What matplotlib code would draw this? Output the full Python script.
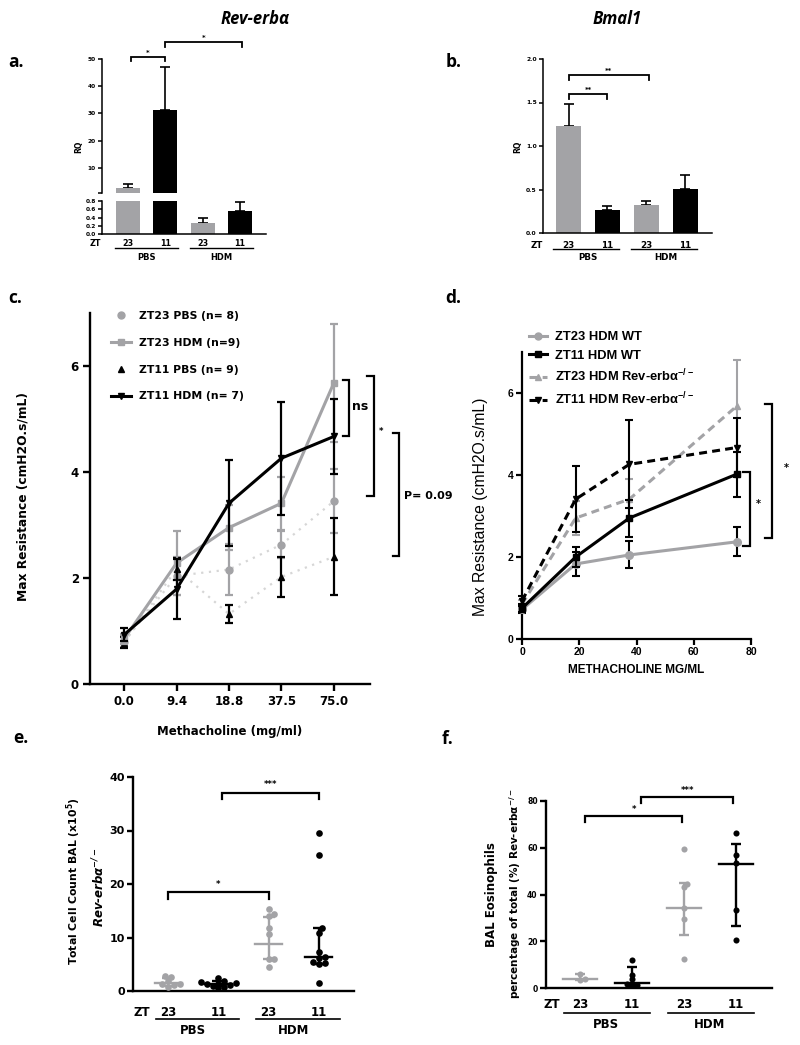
import numpy as np
import matplotlib
matplotlib.use("Agg")
import matplotlib.pyplot as plt
from matplotlib.lines import Line2D
from matplotlib.transforms import blended_transform_factory

plt.rcParams["font.family"] = ["DejaVu Sans"]
plt.rcParams["font.weight"] = "bold"
plt.rcParams["mathtext.default"] = "regular"

W, H = 800, 1045
GRAY = "#a3a3a6"
DOT = "#d6d6d6"
ARIAL = ["Liberation Sans", "DejaVu Sans"]
HEAD = ["Open Sans", "DejaVu Sans"]

# ---------------- data ----------------
zt_labels = ["23", "11", "23", "11"]
treatments = ["PBS", "HDM"]

# a. Rev-erbα RQ
rev_mean = [2.5, 31.2, 0.27, 0.56]
rev_sem = [1.6, 16.0, 0.12, 0.22]

# b. Bmal1 RQ
bmal_mean = [1.23, 0.26, 0.32, 0.51]
bmal_sem = [0.25, 0.05, 0.05, 0.16]

# c. max resistance vs methacholine
doses = ["0.0", "9.4", "18.8", "37.5", "75.0"]
zt23_pbs = [0.80, 2.04, 2.16, 2.63, 3.45]
zt23_pbs_sem = [0.10, 0.36, 0.48, 0.26, 0.60]
zt11_pbs = [0.78, 2.17, 1.32, 2.02, 2.40]
zt11_pbs_sem = [0.10, 0.20, 0.17, 0.38, 0.73]
zt23_hdm = [0.85, 2.28, 2.95, 3.41, 5.68]
zt23_hdm_sem = [0.10, 0.60, 0.42, 0.50, 1.12]
zt11_hdm = [0.93, 1.79, 3.41, 4.26, 4.67]
zt11_hdm_sem = [0.12, 0.57, 0.81, 1.07, 0.71]
c_labels = ["ZT23 PBS (n= 8)", "ZT23 HDM (n=9)", "ZT11 PBS (n= 9)", "ZT11 HDM (n= 7)"]

# d. WT vs Rev-erbα-/-
d_dose = [0, 18.75, 37.5, 75]
wt23 = [0.72, 1.83, 2.05, 2.37]
wt23_sem = [0.08, 0.30, 0.33, 0.35]
wt11 = [0.75, 2.00, 2.95, 4.02]
wt11_sem = [0.10, 0.25, 0.45, 0.55]
ko23 = [0.85, 2.95, 3.41, 5.68]
ko23_sem = [0.10, 0.42, 0.50, 1.12]
ko11 = [0.93, 3.41, 4.26, 4.67]
ko11_sem = [0.12, 0.80, 1.07, 0.71]
d_labels = ["ZT23 HDM WT", "ZT11 HDM WT",
            "ZT23 HDM Rev-erbα$^{-/-}$", "ZT11 HDM Rev-erbα$^{-/-}$"]

# e. total BAL cell count (x10^5)
e_groups = [
    [2.8, 2.6, 1.9, 1.4, 1.1, 0.7, 1.3],
    [2.4, 1.9, 1.6, 1.4, 1.3, 1.2, 1.0, 0.8, 0.5, 1.5],
    [15.4, 14.4, 14.0, 11.8, 10.6, 6.0, 5.9, 4.5],
    [29.5, 25.4, 11.7, 10.9, 7.3, 6.4, 6.1, 5.4, 5.3, 5.0, 1.5],
]
e_median = [1.5, 1.3, 8.8, 6.4]
e_low = [0.9, 0.9, 5.9, 5.1]
e_high = [2.5, 1.9, 13.8, 11.8]

# f. BAL eosinophils (%)
f_groups = [
    [5.9, 4.0, 3.6],
    [12.1, 5.7, 3.8, 1.7, 1.2, 1.2],
    [59.4, 44.6, 43.0, 34.3, 29.7, 12.6],
    [66.1, 57.1, 53.3, 33.3, 20.4],
]
f_median = [4.0, 2.1, 34.1, 53.0]
f_low = [3.6, 1.0, 22.6, 26.7]
f_high = [5.8, 8.9, 44.9, 61.6]

group_colors = [GRAY, "k", GRAY, "k"]

# ---------------- helpers ----------------
fig = plt.figure(figsize=(W / 100, H / 100), dpi=100)


def fx(px):
    return px / W


def fy(py):
    return 1 - py / H


def px_axes(l, t, r, b):
    return fig.add_axes([fx(l), fy(b), (r - l) / W, (b - t) / H])


def clean(ax, lw):
    ax.spines[["top", "right"]].set_visible(False)
    ax.spines[["left", "bottom"]].set_linewidth(lw)
    ax.tick_params(width=lw)


def bracket(ax, x1, x2, y, drop, label, fs, gap, lw=1.3):
    ax.plot([x1, x1, x2, x2], [y - drop, y, y, y - drop], color="k", lw=lw,
            clip_on=False, solid_joinstyle="miter")
    ax.text((x1 + x2) / 2, y + gap, label, ha="center", va="bottom",
            fontsize=fs, clip_on=False)


def side_bracket(ax, x, tick, y1, y2, lw=1.6):
    ax.plot([x - tick, x, x, x - tick], [y1, y1, y2, y2], color="k", lw=lw,
            clip_on=False, solid_joinstyle="miter")


def zt_row(ax, xs, y_num, y_line, y_grp, zt_x, fs_num, fs_grp, lw, left, right):
    tr = blended_transform_factory(ax.transData, fig.transFigure)
    fig.text(fx(zt_x), fy(y_num), "ZT", ha="center", va="center", fontsize=fs_num)
    for x, lab in zip(xs, zt_labels):
        ax.text(x, fy(y_num), lab, transform=tr, ha="center", va="center", fontsize=fs_num)
    for k, name in enumerate(treatments):
        x0, x1 = xs[2 * k], xs[2 * k + 1]
        ax.plot([x0 - left, x1 + right], [fy(y_line)] * 2, transform=tr,
                color="k", lw=lw, clip_on=False)
        ax.text((x0 + x1) / 2, fy(y_grp), name, transform=tr, ha="center",
                va="center", fontsize=fs_grp)


def bars(ax, means, sems, capsize, keep=None):
    x = np.arange(len(means))
    ax.bar(x, means, width=0.65, color=group_colors, zorder=2)
    for i, (m, s) in enumerate(zip(means, sems)):
        if keep is not None and not keep(m):
            continue
        ax.errorbar(x[i], m, yerr=[[0], [s]], fmt="none", ecolor="k",
                    elinewidth=1.2, capsize=capsize, capthick=1.2, zorder=1)


def swarm_x(values, ppx, ppy, diam):
    values = np.asarray(values, dtype=float)
    steps = [0.0]
    for i in range(1, 14):
        steps += [i * diam * 0.45, -i * diam * 0.45]
    placed, offs = [], np.zeros(len(values))
    for idx in np.argsort(values):
        y = values[idx] * ppy
        for s in steps:
            if all((s - px) ** 2 + (y - py) ** 2 >= (0.7 * diam) ** 2 for px, py in placed):
                break
        placed.append((s, y))
        offs[idx] = s / ppx
    return offs


def dot_panel(ax, groups, med, lo, hi, ppx, ppy, diam, ms, half, cap):
    for i, (vals, c) in enumerate(zip(groups, group_colors)):
        xs = i + swarm_x(vals, ppx, ppy, diam)
        ax.plot(xs, vals, "o", color=c, ms=ms, mec="none", zorder=3, clip_on=False)
        ax.plot([i - half, i + half], [med[i]] * 2, color=c, lw=1.7, zorder=4)
        ax.errorbar(i, med[i], yerr=[[med[i] - lo[i]], [hi[i] - med[i]]], fmt="none",
                    ecolor=c, elinewidth=1.7, capsize=cap, capthick=1.7, zorder=4)


# ---------------- headings / panel letters ----------------
fig.text(fx(255), fy(19), "Rev-erbα", family=HEAD, style="italic", fontsize=12,
         ha="center", va="center")
fig.text(fx(617), fy(19), "Bmal1", family=HEAD, style="italic", fontsize=12,
         ha="center", va="center")
for lab, (px, py) in {"a.": (16, 62), "b.": (454, 62), "c.": (15, 298), "d.": (453, 298),
                      "e.": (21, 738), "f.": (447, 739)}.items():
    fig.text(fx(px), fy(py), lab, family=HEAD, fontsize=12.5, ha="center", va="center")

# ---------------- a ----------------
a_top = px_axes(102, 59, 266, 193)
a_bot = px_axes(102, 201, 266, 234)
bars(a_top, rev_mean, rev_sem, 3.5, keep=lambda m: m > 0.8)
bars(a_bot, rev_mean, rev_sem, 3.5, keep=lambda m: m < 0.8)
for ax in (a_top, a_bot):
    ax.set_xlim(-0.7, 3.7)
    clean(ax, 1.1)
    ax.set_xticks([])
a_top.set_ylim(0.8, 50)
a_top.spines["bottom"].set_visible(False)
a_top.set_yticks([0.8, 10, 20, 30, 40, 50], ["", "10", "20", "30", "40", "50"])
a_bot.set_ylim(0, 0.8)
a_bot.set_yticks([0, 0.2, 0.4, 0.6, 0.8], ["0.0", "0.2", "0.4", "0.6", "0.8"])
for ax in (a_top, a_bot):
    ax.tick_params(axis="y", length=3, pad=1.5, labelsize=4.2)
fig.text(fx(79), fy(147), "RQ", rotation=90, fontsize=5.5, ha="center", va="center")
bracket(a_top, 0.08, 1, 50.7, 1.4, "*", 5, 0.4)
bracket(a_top, 1, 3.05, 56.2, 1.8, "*", 5, 0.4)
zt_row(a_bot, np.arange(4), 244, 248, 257, 95, 5.8, 6, 1.0, 0.35, 0.35)

# ---------------- b ----------------
b_ax = px_axes(543, 59, 712, 233)
bars(b_ax, bmal_mean, bmal_sem, 3.5)
b_ax.set_xlim(-0.66, 3.69)
b_ax.set_ylim(0, 2)
clean(b_ax, 1.1)
b_ax.set_xticks([])
b_ax.set_yticks([0, 0.5, 1, 1.5, 2], ["0.0", "0.5", "1.0", "1.5", "2.0"])
b_ax.tick_params(axis="y", length=3, pad=1.5, labelsize=4.3)
fig.text(fx(518), fy(147), "RQ", rotation=90, fontsize=5.5, ha="center", va="center")
bracket(b_ax, 0, 1, 1.60, 0.06, "**", 5, 0.01)
bracket(b_ax, 0, 2.07, 1.82, 0.06, "**", 5, 0.01)
zt_row(b_ax, np.arange(4), 245, 249, 258, 537, 6.3, 6.3, 1.0, 0.4, 0.3)

# ---------------- c ----------------
c_ax = px_axes(90, 313, 370, 684)
xc = np.arange(len(doses))
c_ax.plot(xc, zt23_pbs, ls=(0, (1, 2.5)), color=DOT, lw=1.6, zorder=1)
c_ax.plot(xc, zt11_pbs, ls=(0, (1, 2.5)), color=DOT, lw=1.6, zorder=1)
c_ax.errorbar(xc, zt23_pbs, yerr=zt23_pbs_sem, fmt="o", color=GRAY, ms=5, capsize=3,
              elinewidth=1.6, capthick=1.6, zorder=2)
c_ax.errorbar(xc, zt11_pbs, yerr=zt11_pbs_sem, fmt="^", color="k", ms=4.5, capsize=3,
              elinewidth=1.6, capthick=1.6, zorder=3)
c_ax.errorbar(xc, zt23_hdm, yerr=zt23_hdm_sem, fmt="-s", color=GRAY, ms=4.5, lw=2.2,
              capsize=3, elinewidth=1.6, capthick=1.6, zorder=4)
c_ax.errorbar(xc, zt11_hdm, yerr=zt11_hdm_sem, fmt="-v", color="k", ms=4, lw=2.2,
              capsize=3, elinewidth=1.6, capthick=1.6, zorder=5)
c_ax.set_xlim(-0.65, 4.69)
c_ax.set_ylim(0, 7)
clean(c_ax, 1.7)
c_ax.set_xticks(xc, doses)
c_ax.set_yticks([0, 2, 4, 6])
c_ax.tick_params(length=5, labelsize=8.5, pad=3)
fig.text(fx(23), fy(497), "Max Resistance (cmH2O.s/mL)", rotation=90, fontsize=8.8,
         ha="center", va="center")
fig.text(fx(230), fy(731), "Methacholine (mg/ml)", fontsize=8.5, ha="center", va="center")
c_handles = [
    Line2D([], [], color=GRAY, marker="o", ls="none", ms=5),
    Line2D([], [], color=GRAY, marker="s", lw=2.2, ms=4.5),
    Line2D([], [], color="k", marker="^", ls="none", ms=4.5),
    Line2D([], [], color="k", marker="v", lw=2.2, ms=4),
]
c_ax.legend(c_handles, c_labels, loc="upper left", bbox_to_anchor=(fx(111), fy(311)),
            bbox_transform=fig.transFigure, frameon=False, borderpad=0, borderaxespad=0,
            handlelength=1.8, handletextpad=0.75, labelspacing=1.55,
            prop={"size": 7.8, "weight": "bold"})
side_bracket(c_ax, 4.29, 0.12, zt23_hdm[-1] + 0.05, zt11_hdm[-1])
c_ax.text(4.34, 5.24, "ns", fontsize=9, ha="left", va="center", clip_on=False)
side_bracket(c_ax, 4.76, 0.12, zt23_hdm[-1] + 0.13, zt23_pbs[-1] + 0.09)
c_ax.text(4.91, 4.77, "*", fontsize=6, ha="center", va="center", clip_on=False)
side_bracket(c_ax, 5.24, 0.12, zt11_hdm[-1] + 0.06, zt11_pbs[-1] + 0.02)
c_ax.text(5.33, 3.54, "P= 0.09", fontsize=8, ha="left", va="center", clip_on=False)

# ---------------- d ----------------
d_ax = px_axes(522, 352, 751, 639)
ekw = dict(capsize=3, elinewidth=1.5, capthick=1.5, clip_on=False)
dash = (0, (2.6, 1.7))
d_ax.errorbar(d_dose, ko23, yerr=ko23_sem, color=GRAY, ecolor=GRAY, marker="^", ms=4.5,
              lw=2.2, ls=dash, zorder=2, **ekw)
d_ax.errorbar(d_dose, ko11, yerr=ko11_sem, color="k", ecolor="k", marker="v", ms=4.5,
              lw=2.2, ls=dash, zorder=3, **ekw)
d_ax.errorbar(d_dose, wt23, yerr=wt23_sem, color=GRAY, ecolor="k", marker="o", ms=5.5,
              lw=2.2, zorder=4, **ekw)
d_ax.errorbar(d_dose, wt11, yerr=wt11_sem, color="k", ecolor="k", marker="s", ms=5,
              lw=2.2, zorder=5, **ekw)
d_ax.set_xlim(0, 80)
d_ax.set_ylim(0, 7)
clean(d_ax, 1.6)
d_ax.set_xticks([0, 20, 40, 60, 80])
d_ax.set_yticks([0, 2, 4, 6])
d_ax.tick_params(length=4, labelsize=7.5, pad=2)
for lab in d_ax.get_xticklabels() + d_ax.get_yticklabels():
    lab.set_family(ARIAL)
fig.text(fx(481), fy(507), "Max Resistance (cmH2O.s/mL)", rotation=90, family=ARIAL,
         fontweight="normal", fontsize=11.3, ha="center", va="center")
fig.text(fx(636), fy(670), "METHACHOLINE MG/ML", family=ARIAL, fontsize=8.5,
         ha="center", va="center")
d_handles = [
    Line2D([], [], color=GRAY, marker="o", lw=2.2, ms=5),
    Line2D([], [], color="k", marker="s", lw=2.2, ms=4.5),
    Line2D([], [], color=GRAY, marker="^", lw=2.2, ls=dash, ms=4.5),
    Line2D([], [], color="k", marker="v", lw=2.2, ls=dash, ms=4.5),
]
d_ax.legend(d_handles, d_labels, loc="upper left", bbox_to_anchor=(fx(529), fy(331)),
            bbox_transform=fig.transFigure, frameon=False, borderpad=0, borderaxespad=0,
            handlelength=1.4, handletextpad=0.6, labelspacing=0.5,
            prop={"family": ARIAL, "size": 9.3, "weight": "bold"})
side_bracket(d_ax, 79.7, 2.4, wt11[-1] + 0.05, wt23[-1] - 0.1)
d_ax.text(82.4, 3.3, "*", fontsize=7, ha="center", va="center", clip_on=False)
side_bracket(d_ax, 87.3, 2.4, ko23[-1] + 0.05, wt23[-1] + 0.09)
d_ax.text(92.5, 4.17, "*", fontsize=7, ha="center", va="center", clip_on=False)

# ---------------- e ----------------
e_ax = px_axes(133, 777, 354, 991)
dot_panel(e_ax, e_groups, e_median, e_low, e_high, 50.3, 5.34, 6.5, 4.8, 0.27, 4)
e_ax.set_xlim(-0.7, 3.7)
e_ax.set_ylim(0, 40)
clean(e_ax, 1.7)
e_ax.set_xticks([])
e_ax.set_yticks([0, 10, 20, 30, 40])
e_ax.tick_params(axis="y", length=4, labelsize=8, pad=2)
bracket(e_ax, 0, 2, 18.5, 1.3, "*", 6, 0.6, lw=1.6)
bracket(e_ax, 1.07, 3, 37.1, 1.2, "***", 6, 0.6, lw=1.6)
zt_row(e_ax, np.arange(4), 1012, 1019, 1030, 142, 8.5, 8.5, 1.2, 0.25, 0.42)
fig.text(fx(74), fy(881), "Total Cell Count BAL (x10$^{\\mathbf{5}}$)", rotation=90,
         fontsize=7.8, ha="center", va="center")
fig.text(fx(99), fy(887), "Rev-erbα$^{-/-}$", rotation=90, style="italic", fontsize=8.5,
         ha="center", va="center")

# ---------------- f ----------------
f_ax = px_axes(546, 801, 772, 988)
dot_panel(f_ax, f_groups, f_median, f_low, f_high, 52, 2.34, 5.8, 4.4, 0.32, 3.5)
f_ax.set_xlim(-0.65, 3.69)
f_ax.set_ylim(0, 80)
clean(f_ax, 1.7)
f_ax.set_xticks([])
f_ax.set_yticks([0, 20, 40, 60, 80])
f_ax.tick_params(axis="y", length=4, labelsize=5.5, pad=2)
bracket(f_ax, 0.1, 1.97, 73.6, 2.6, "*", 6, 1.0, lw=1.6)
bracket(f_ax, 1.17, 2.95, 81.7, 2.6, "***", 6, 1.0, lw=1.6)
zt_row(f_ax, np.arange(4), 1005, 1013, 1025, 552, 8.5, 8.5, 1.2, 0.3, 0.35)
fig.text(fx(491), fy(895), "BAL Eosinophils", rotation=90, fontsize=8.5,
         ha="center", va="center")
fig.text(fx(515), fy(894), "percentage of total (%) Rev-erbα$^{-/-}$", rotation=90,
         fontsize=7.5, ha="center", va="center")

fig.savefig("out.png", dpi=100)
